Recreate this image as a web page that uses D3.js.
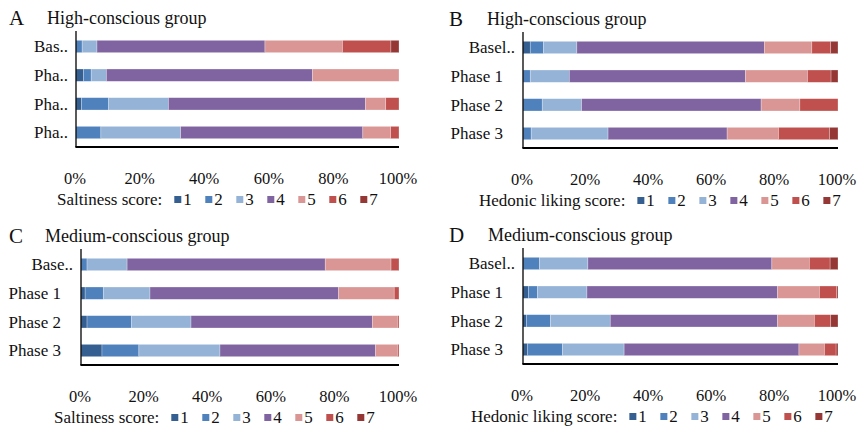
<!DOCTYPE html>
<html>
<head>
<meta charset="utf-8">
<script src="https://cdn.jsdelivr.net/npm/d3@7"></script>
<style>
  body { margin: 0; background: #fff; }
  svg { display: block; }
  text { font-family: "Liberation Serif", "Times New Roman", serif; fill: #111; }
</style>
</head>
<body>
<svg class="chart" width="858" height="428"></svg>
<script>
// score categories and colours (1 = lowest, 7 = highest)
const scores = ['1', '2', '3', '4', '5', '6', '7']
const scoreColors = ['#355f91', '#4f81bd', '#95b3d7', '#8064a2', '#da9694', '#c0504d', '#953735']
const tickValues = [0, 20, 40, 60, 80, 100]

// A: saltiness, high-conscious
const catsA = ['Bas..', 'Pha..', 'Pha..', 'Pha..']
const valuesA = [
  [0, 1.9, 4.6, 52.0, 24.0, 15.0, 2.5],
  [2.3, 2.4, 4.7, 63.8, 26.8, 0, 0],
  [1.7, 8.4, 18.5, 61.0, 6.3, 4.1, 0],
  [0, 7.7, 24.7, 56.4, 8.6, 2.6, 0],
]

// B: hedonic liking, high-conscious
const catsB = ['Basel..', 'Phase 1', 'Phase 2', 'Phase 3']
const valuesB = [
  [2.3, 4.2, 10.6, 59.5, 15.1, 6.0, 2.3],
  [0, 2.3, 12.4, 55.9, 19.7, 7.5, 2.2],
  [0, 6.1, 12.5, 57.0, 12.3, 12.1, 0],
  [0, 2.6, 24.4, 37.8, 16.3, 16.2, 2.7],
]

// C: saltiness, medium-conscious
const catsC = ['Base..', 'Phase 1', 'Phase 2', 'Phase 3']
const valuesC = [
  [0, 1.9, 12.6, 62.3, 20.7, 2.5, 0],
  [1.3, 5.7, 14.7, 59.3, 17.5, 1.5, 0],
  [1.9, 14.0, 18.7, 57.0, 7.9, 0.5, 0],
  [6.6, 11.6, 25.5, 48.9, 6.9, 0.5, 0],
]

// D: hedonic liking, medium-conscious
const catsD = ['Basel..', 'Phase 1', 'Phase 2', 'Phase 3']
const valuesD = [
  [0, 5.2, 15.4, 58.4, 11.9, 6.6, 2.5],
  [1.7, 2.9, 15.7, 60.5, 13.3, 5.5, 0.4],
  [1.1, 7.6, 19.0, 53.1, 11.7, 5.2, 2.3],
  [1.5, 11.0, 19.6, 55.5, 8.1, 3.7, 0.6],
]

const panels = [
  { letter: 'A', title: 'High-conscious group', legend: 'Saltiness score:', cats: catsA, values: valuesA,
    letterX: 9, titleX: 47, top: 0, x0: 76, x1: 399, legendX: 57 },
  { letter: 'B', title: 'High-conscious group', legend: 'Hedonic liking score:', cats: catsB, values: valuesB,
    letterX: 449, titleX: 487, top: 1, x0: 523, x1: 838, legendX: 479 },
  { letter: 'C', title: 'Medium-conscious group', legend: 'Saltiness score:', cats: catsC, values: valuesC,
    letterX: 9, titleX: 45, top: 218, x0: 81, x1: 399, legendX: 54 },
  { letter: 'D', title: 'Medium-conscious group', legend: 'Hedonic liking score:', cats: catsD, values: valuesD,
    letterX: 449, titleX: 488, top: 217, x0: 523, x1: 838, legendX: 471 },
]

const chart = d3.select('.chart')

const drawPanel = (p) => {
  const g = chart.append('g').attr('transform', `translate(0,${p.top})`)
  const plotTop = 32
  const plotBottom = 147

  g.append('text').attr('x', p.letterX).attr('y', 25).style('font-size', '21px').text(p.letter)
  g.append('text').attr('x', p.titleX).attr('y', 24).style('font-size', '18px').text(p.title)

  const x = d3.scaleLinear().domain([0, 100]).range([p.x0, p.x1])
  const y = d3.scaleBand().domain(d3.range(p.cats.length)).range([plotTop, plotBottom])
    .paddingInner(0.57).paddingOuter(0.29)

  const stacked = p.values.map((row) => {
    let acc = 0
    return row.map((v, k) => {
      const seg = { k, start: acc, end: acc + v }
      acc += v
      return seg
    })
  })

  g.append('g').selectAll('g')
    .data(stacked)
    .enter()
    .append('g')
    .attr('transform', (row, i) => `translate(0,${y(i)})`)
    .selectAll('rect')
    .data(row => row.filter(s => s.end > s.start))
    .enter()
    .append('rect')
    .attr('x', s => x(s.start))
    .attr('width', s => x(s.end) - x(s.start))
    .attr('height', y.bandwidth())
    .attr('fill', s => scoreColors[s.k])
    .attr('stroke', '#fff')
    .attr('stroke-opacity', 0.45)
    .attr('stroke-width', 0.6)

  // category labels: truncated ones sit closer to the axis
  g.append('g').selectAll('text')
    .data(p.cats)
    .enter()
    .append('text')
    .attr('x', c => p.x0 - (c.endsWith('..') ? 8 : 20))
    .attr('y', (c, i) => y(i) + y.bandwidth() / 2)
    .attr('dy', '0.35em')
    .attr('text-anchor', 'end')
    .style('font-size', '17px')
    .text(c => c)

  // axis lines
  g.append('line').attr('x1', p.x0).attr('x2', p.x0).attr('y1', plotTop - 1).attr('y2', plotBottom)
    .attr('stroke', '#000').attr('stroke-width', 1.3)
  g.append('line').attr('x1', p.x0 - 0.6).attr('x2', p.x1).attr('y1', plotBottom).attr('y2', plotBottom)
    .attr('stroke', '#000').attr('stroke-width', 2)

  g.append('g').selectAll('text')
    .data(tickValues)
    .enter()
    .append('text')
    .attr('x', v => x(v) - 1)
    .attr('y', 178)
    .attr('dy', '0.35em')
    .attr('text-anchor', 'middle')
    .style('font-size', '16.5px')
    .text(v => `${v}%`)

  // legend
  const leg = g.append('g').attr('transform', 'translate(0,199)')
  const label = leg.append('text').attr('x', p.legendX).attr('dy', '0.35em')
    .style('font-size', '17px').text(p.legend)
  const start = p.legendX + label.node().getComputedTextLength() + 12
  const item = leg.selectAll('g.item')
    .data(scores)
    .enter()
    .append('g')
    .attr('class', 'item')
    .attr('transform', (s, i) => `translate(${start + i * 31},0)`)
  item.append('rect').attr('y', -3).attr('width', 7).attr('height', 7)
    .attr('fill', (s, i) => scoreColors[i])
  item.append('text').attr('x', 9).attr('dy', '0.35em').style('font-size', '17px').text(s => s)
}

panels.forEach(drawPanel)
</script>
</body>
</html>
